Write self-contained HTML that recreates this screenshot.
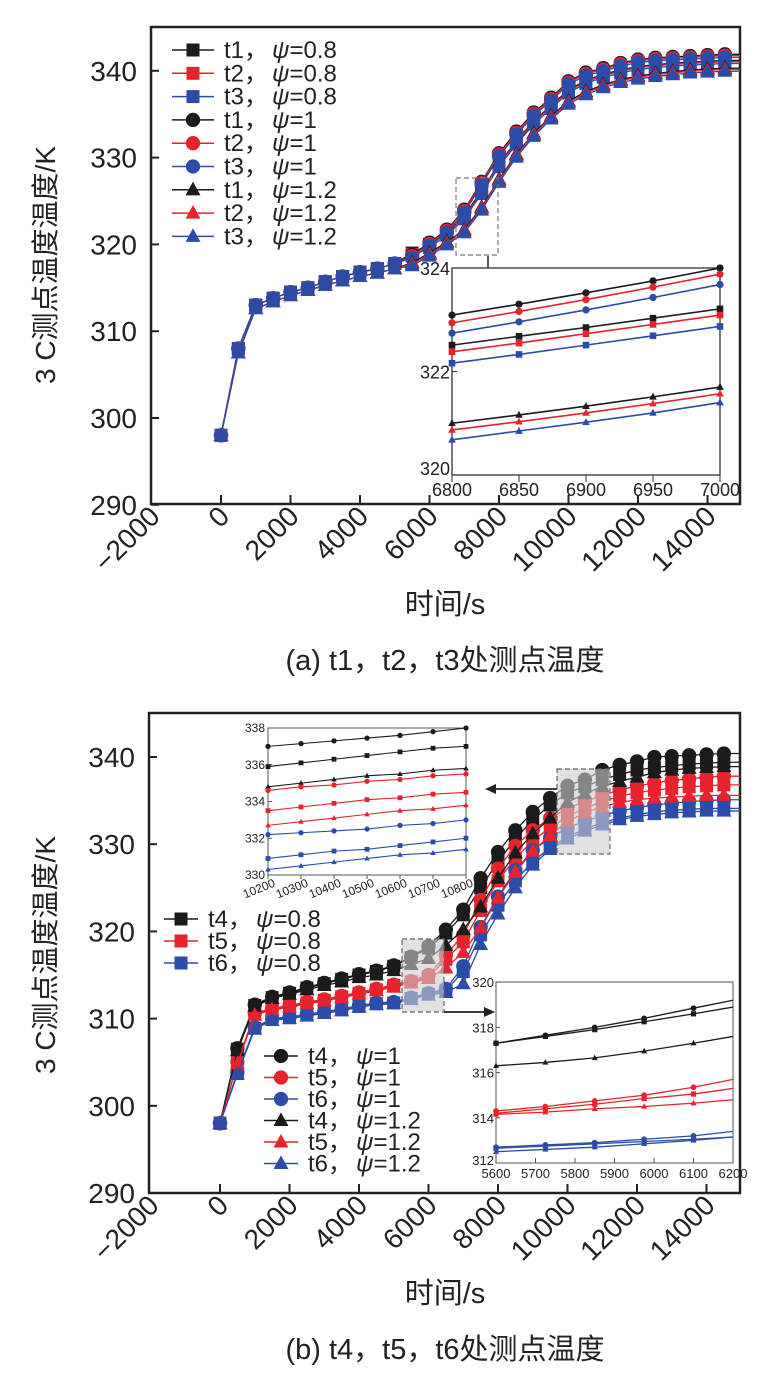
<!DOCTYPE html>
<html><head><meta charset="utf-8">
<style>
html,body{margin:0;padding:0;background:#fff;}
svg{display:block;font-family:"Liberation Sans","Noto Sans CJK SC",sans-serif;}
</style></head>
<body>
<svg id="fig" width="773" height="1377" viewBox="0 0 773 1377" xmlns="http://www.w3.org/2000/svg">
<rect x="0" y="0" width="773" height="1377" fill="#fff"/>
</svg>
<script>
// ---------- DATA ----------
const times = [0,500,1000,1500,2000,2500,3000,3500,4000,4500,5000,5500,6000,6500,7000,7500,8000,8500,9000,9500,10000,10500,11000,11500,12000,12500,13000,13500,14000,14500];
const xTickLabels = [-2000,0,2000,4000,6000,8000,10000,12000,14000];
const topYTicks = [290,300,310,320,330,340];
const botYTicks = [290,300,310,320,330,340];
// top chart (t1 values per psi)
const t1_p08 = [298,308,313,313.8,314.5,315,315.7,316.3,316.8,317.2,317.8,319.0,320.0,321.4,323.3,326.2,329.3,331.9,334.2,336.0,337.8,338.9,339.6,340.1,340.5,340.7,340.9,341.0,341.1,341.2];
const t1_p10 = [298,308,313,313.8,314.5,315,315.7,316.3,316.8,317.2,317.8,318.8,320.2,321.7,324.0,327.2,330.5,333.0,335.2,336.9,338.8,339.8,340.3,340.9,341.3,341.5,341.6,341.7,341.8,341.9];
const t1_p12 = [298,307.5,312.6,313.4,314.1,314.7,315.3,315.8,316.3,316.7,317.2,317.9,319.0,320.3,321.7,324.3,327.5,330.4,332.8,334.8,336.5,337.6,338.4,339.0,339.4,339.7,339.9,340.1,340.2,340.3];
const topSensorOffset = [0,-0.15,-0.35]; // t1,t2,t3
// top inset
const insetTopX = [6800,6850,6900,6950,7000];
const iT1p10 = [323.09,323.3,323.52,323.75,324.0];
const iT2p10 = [322.94,323.16,323.39,323.63,323.88];
const iT3p10 = [322.74,322.96,323.19,323.43,323.68];
const iT1p08 = [322.51,322.68,322.85,323.03,323.21];
const iT2p08 = [322.38,322.55,322.73,322.91,323.09];
const iT3p08 = [322.16,322.33,322.51,322.69,322.87];
const iT1p12 = [321.0,321.16,321.33,321.51,321.7];
const iT2p12 = [320.87,321.03,321.2,321.38,321.57];
const iT3p12 = [320.68,320.85,321.02,321.2,321.4];
// bottom chart
const t4_p08 = [298,306.5,311.5,312.4,312.9,313.5,314.0,314.5,315.0,315.4,316.0,317.0,318.1,319.8,321.9,325.0,328.0,330.6,332.8,334.5,335.9,336.6,337.4,338.0,338.5,338.8,339.0,339.2,339.3,339.4];
const t5_p08 = [298,304.9,310.5,311.1,311.4,311.8,312.1,312.5,312.9,313.3,313.8,314.2,314.8,316.8,318.8,322.4,325.8,328.4,330.4,331.9,333.2,334.1,334.9,335.5,335.9,336.2,336.4,336.6,336.7,336.8];
const t6_p08 = [298,303.7,308.9,309.9,310.1,310.4,310.7,311.0,311.4,311.7,311.8,312.3,312.8,313.2,315.4,319.6,323.0,325.8,328.0,329.6,330.9,331.7,332.5,333.0,333.4,333.7,333.9,334.0,334.1,334.1];
const t4_p10 = [298,306.6,311.6,312.5,313.0,313.6,314.1,314.6,315.1,315.5,316.1,317.1,318.3,320.2,322.5,326.1,329.1,331.6,333.7,335.3,336.7,337.4,338.5,339.1,339.5,340.0,340.1,340.2,340.3,340.4];
const t5_p10 = [298,305.0,310.6,311.2,311.5,311.9,312.2,312.6,313.0,313.4,313.9,314.3,315.0,317.3,319.6,323.6,327.2,329.8,331.6,333.0,334.1,334.9,335.6,336.2,336.7,337.0,337.3,337.5,337.7,337.8];
const t6_p10 = [298,303.8,309.0,310.0,310.2,310.5,310.8,311.1,311.5,311.8,311.9,312.4,312.9,313.4,316.0,320.5,324.0,327.0,329.3,330.7,331.9,332.6,333.3,333.8,334.2,334.5,334.7,334.9,335.0,335.1];
const t4_p12 = [298,306.3,311.4,312.3,312.8,313.3,313.8,314.2,314.7,315.0,315.5,316.2,316.9,318.4,320.2,322.8,326.1,329.0,331.2,333.0,334.8,335.8,336.6,337.2,337.7,338.2,338.5,338.7,338.8,338.9];
const t5_p12 = [298,304.8,310.4,311.0,311.3,311.7,312.0,312.4,312.8,313.2,313.6,314.1,314.6,315.8,317.6,320.4,323.8,326.8,329.2,331.0,332.6,333.6,334.3,334.8,335.1,335.3,335.4,335.5,335.6,335.6];
const t6_p12 = [298,303.6,308.8,309.8,310.0,310.3,310.6,310.9,311.3,311.6,311.7,312.2,312.7,313.0,314.0,318.5,322.0,325.0,327.6,329.4,330.6,331.5,332.2,332.8,333.2,333.4,333.6,333.7,333.8,333.8];
// bottom-left inset
const insetBLX = [10200,10300,10400,10500,10600,10700,10800];
const bl_t4p10 = [337.0,337.15,337.3,337.45,337.6,337.8,338.0];
const bl_t4p08 = [335.9,336.1,336.3,336.5,336.7,336.9,337.0];
const bl_t4p12 = [334.8,335.0,335.2,335.4,335.5,335.7,335.8];
const bl_t5p10 = [334.6,334.8,334.9,335.1,335.2,335.4,335.5];
const bl_t5p08 = [333.5,333.7,333.9,334.1,334.2,334.4,334.5];
const bl_t5p12 = [332.7,332.9,333.1,333.3,333.5,333.6,333.8];
const bl_t6p10 = [332.2,332.3,332.4,332.5,332.7,332.8,333.0];
const bl_t6p08 = [330.9,331.1,331.3,331.4,331.6,331.8,332.0];
const bl_t6p12 = [330.3,330.5,330.7,330.9,331.1,331.2,331.4];
const blYTicks = [330,332,334,336,338];
// bottom-right inset
const insetBRX = [5600,5725,5850,5975,6100,6200];
const br_t4p10 = [317.3,317.65,318.0,318.4,318.85,319.2];
const br_t4p08 = [317.3,317.6,317.9,318.25,318.6,318.9];
const br_t4p12 = [316.3,316.45,316.65,316.95,317.3,317.6];
const br_t5p10 = [314.3,314.5,314.75,315.0,315.35,315.7];
const br_t5p08 = [314.2,314.4,314.6,314.85,315.05,315.3];
const br_t5p12 = [314.15,314.25,314.4,314.5,314.65,314.8];
const br_t6p10 = [312.7,312.8,312.9,313.05,313.2,313.4];
const br_t6p08 = [312.65,312.75,312.85,312.95,313.05,313.15];
const br_t6p12 = [312.5,312.6,312.7,312.85,313.0,313.15];
const brYTicks = [312,314,316,318,320];
const brXTicks = [5600,5700,5800,5900,6000,6100,6200];

// ---------- helpers ----------
const NS='http://www.w3.org/2000/svg';
const svg=document.getElementById('fig');
const BLK='#1b1b1b', RED='#e8232b', BLU='#2b4ca8';
function mk(parent,tag,attrs){const e=document.createElementNS(NS,tag);for(const k in attrs)e.setAttribute(k,attrs[k]);parent.appendChild(e);return e;}
function marker(g,shape,x,y,s,color){
  let m;
  if(shape==='sq') m=mk(g,'rect',{x:x-s,y:y-s,width:2*s,height:2*s,fill:color});
  else if(shape==='ci') m=mk(g,'circle',{cx:x,cy:y,r:s*1.1,fill:color});
  else m=mk(g,'polygon',{points:`${x},${y-s*1.25} ${x-s*1.15},${y+s*0.85} ${x+s*1.15},${y+s*0.85}`,fill:color});
  
  
  return m;
}
function text(g,x,y,str,size,anchor,extra){
  const t=mk(g,'text',Object.assign({x:x,y:y,'font-size':size,'text-anchor':anchor||'start',fill:'#222'},extra||{}));
  t.textContent=str;
  return t;
}
function series(g,xs,ys,fx,fy,color,shape,ms,lw,extendTo,skipLast){
  const pts=xs.map((v,i)=>fx(v)+','+fy(ys[i]));
  if(extendTo) pts.push(extendTo+','+fy(ys[ys.length-1]));
  const pl=mk(g,'polyline',{points:pts.join(' '),fill:'none',stroke:color,'stroke-width':lw});
  
  
  xs.forEach((v,i)=>{ if(skipLast && i===xs.length-1) return; marker(g,shape,fx(v),fy(ys[i]),ms,color);});
}
function legendEntry(g,x1,x2,y,color,shape,label,psi,size){
  const gg=mk(g,'g',{});
  
  
  mk(gg,'line',{x1:x1,y1:y,x2:x2,y2:y,stroke:color,'stroke-width':1.5});
  marker(gg,shape,(x1+x2)/2,y,6.5,color);
  const t=mk(gg,'text',{x:x2+10,y:y+8,'font-size':size,fill:'#222'});
  const a=mk(t,'tspan',{}); a.textContent=label+'，';
  const b=mk(t,'tspan',{'font-style':'italic',dx:4}); b.textContent='ψ';
  const c=mk(t,'tspan',{}); c.textContent='='+psi;
}
function mainAxes(g,L,T,R,B,fx,fy,yTicks){
  const fr=mk(g,'rect',{x:L,y:T,width:R-L,height:B-T,fill:'none',stroke:'#222','stroke-width':2.5});
  
  
  yTicks.forEach(v=>{
    const y=fy(v);
    mk(g,'line',{x1:L,y1:y,x2:L+8,y2:y,stroke:'#222','stroke-width':2});
    const t=text(g,L-14,y+10,String(v),28,'end');
    
    
  });
  xTickLabels.forEach(v=>{
    const x=fx(v);
    if(v>-2000) mk(g,'line',{x1:x,y1:B,x2:x,y2:B-9,stroke:'#222','stroke-width':2});
    const t=text(g,0,0,v<0?'−'+Math.abs(v):String(v),28,'end',{transform:`translate(${x+10},${B+14}) rotate(-45)`});
    
    
  });
}

// ================= TOP CHART =================
const xT=v=>221+v*0.03475;
const yT=v=>418-(v-300)*8.68;
const gTop=mk(svg,'g',{});


mainAxes(gTop,151,27,740,504,xT,yT,topYTicks);
const topSets=[[t1_p08,'sq'],[t1_p10,'ci'],[t1_p12,'tr']];
const sensorCols=[BLK,RED,BLU];
const gTS=mk(gTop,'g',{});


topSets.forEach(([arr,shape])=>{
  [0,1,2].forEach(si=>{
    const ys=arr.map((v,i)=>i<11?v:v+topSensorOffset[si]);
    series(gTS,times,ys,xT,yT,sensorCols[si],shape,6.5,1.3,740,false);
  });
});
// legend
const gTL=mk(gTop,'g',{});


const legA=[['t1','0.8',BLK,'sq'],['t2','0.8',RED,'sq'],['t3','0.8',BLU,'sq'],['t1','1',BLK,'ci'],['t2','1',RED,'ci'],['t3','1',BLU,'ci'],['t1','1.2',BLK,'tr'],['t2','1.2',RED,'tr'],['t3','1.2',BLU,'tr']];
legA.forEach((e,i)=>legendEntry(gTL,172,214,50+i*23.3,e[2],e[3],e[0],e[1],24));
// dashed zoom box + arrow
const zb=mk(gTop,'rect',{x:456,y:178,width:42,height:77,fill:'none',stroke:'#777','stroke-width':1.2,'stroke-dasharray':'5,3'});


mk(gTop,'line',{x1:488,y1:256,x2:488,y2:276,stroke:'#222','stroke-width':1.5});
const ah=mk(gTop,'polygon',{points:'483,275 493,275 488,284',fill:'#222'});


// top inset
const ixT=v=>452+(v-6800)*(268/200);
const iyT=v=>475-(v-320)*51.75;
const gI=mk(gTop,'g',{});


mk(gI,'rect',{x:452,y:268,width:268,height:207,fill:'#fff',stroke:'#333','stroke-width':1.3});
[320,322,324].forEach(v=>{
  mk(gI,'line',{x1:452,y1:iyT(v),x2:457,y2:iyT(v),stroke:'#333','stroke-width':1});
  const t=text(gI,450,iyT(v)+(v===320?0:7),String(v),18,'end');
  
  
});
insetTopX.forEach(v=>{
  mk(gI,'line',{x1:ixT(v),y1:475,x2:ixT(v),y2:482,stroke:'#333','stroke-width':1});
  const t=text(gI,ixT(v),496,String(v),18,'middle');
  
  
});
[[iT1p10,BLK,'ci'],[iT2p10,RED,'ci'],[iT3p10,BLU,'ci'],[iT1p08,BLK,'sq'],[iT2p08,RED,'sq'],[iT3p08,BLU,'sq'],[iT1p12,BLK,'tr'],[iT2p12,RED,'tr'],[iT3p12,BLU,'tr']]
 .forEach(([ys,c,s])=>series(gI,insetTopX,ys,ixT,iyT,c,s,3.3,1.6,null,false));
// labels
const yl1=text(gTop,0,0,'3 C测点温度温度/K',28,'middle',{transform:'translate(55,265) rotate(-90)'});


const xl1=text(gTop,445,614,'时间/s',29,'middle');


const cap1=text(gTop,445,670,'(a) t1，t2，t3处测点温度',29,'middle');



// ================= BOTTOM CHART =================
const xB=v=>220+v*0.03475;
const yB=v=>757+(340-v)*8.72;
const gBot=mk(svg,'g',{});


mainAxes(gBot,149,713,740,1193,xB,yB,botYTicks);
const gBS=mk(gBot,'g',{});


[[t4_p08,BLK,'sq'],[t5_p08,RED,'sq'],[t6_p08,BLU,'sq'],[t4_p10,BLK,'ci'],[t5_p10,RED,'ci'],[t6_p10,BLU,'ci'],[t4_p12,BLK,'tr'],[t5_p12,RED,'tr'],[t6_p12,BLU,'tr']]
 .forEach(([ys,c,s])=>series(gBS,times,ys,xB,yB,c,s,6.5,1.3,740,false));
// gray boxes
const gb1=mk(gBot,'rect',{x:557,y:769,width:53,height:85,fill:'rgba(205,205,205,0.6)',stroke:'#666','stroke-width':1.2,'stroke-dasharray':'5,3'});


const gb2=mk(gBot,'rect',{x:402,y:939,width:42,height:73,fill:'rgba(205,205,205,0.6)',stroke:'#666','stroke-width':1.2,'stroke-dasharray':'5,3'});


mk(gBot,'line',{x1:557,y1:789,x2:494,y2:789,stroke:'#222','stroke-width':1.8});
const a1=mk(gBot,'polygon',{points:'485,789 496,784 496,794',fill:'#222'});


mk(gBot,'line',{x1:444,y1:1012,x2:486,y2:1012,stroke:'#222','stroke-width':1.8});
const a2=mk(gBot,'polygon',{points:'495,1012 484,1007 484,1017',fill:'#222'});


// legends
const gBL=mk(gBot,'g',{});


[['t4','0.8',BLK,'sq'],['t5','0.8',RED,'sq'],['t6','0.8',BLU,'sq']].forEach((e,i)=>legendEntry(gBL,164,198,919+i*22,e[2],e[3],e[0],e[1],24));
[['t4','1',BLK,'ci'],['t5','1',RED,'ci'],['t6','1',BLU,'ci'],['t4','1.2',BLK,'tr'],['t5','1.2',RED,'tr'],['t6','1.2',BLU,'tr']].forEach((e,i)=>legendEntry(gBL,264,298,1056+i*21.5,e[2],e[3],e[0],e[1],24));
// bottom-left inset
const blx=v=>268+(v-10200)*(198/600);
const bly=v=>875-(v-330)*18.375;
const gI2=mk(gBot,'g',{});


mk(gI2,'rect',{x:268,y:728,width:198,height:147,fill:'#fff',stroke:'#555','stroke-width':1});
blYTicks.forEach(v=>{
  mk(gI2,'line',{x1:268,y1:bly(v),x2:272,y2:bly(v),stroke:'#555','stroke-width':1});
  const t=text(gI2,265,bly(v)+4,String(v),12,'end');
  
  
});
insetBLX.forEach(v=>{
  mk(gI2,'line',{x1:blx(v),y1:875,x2:blx(v),y2:879,stroke:'#555','stroke-width':1});
  const t=text(gI2,0,0,String(v),12,'end',{transform:`translate(${blx(v)+8},${886}) rotate(-22)`});
  
  
});
[[bl_t4p10,BLK,'ci'],[bl_t4p08,BLK,'sq'],[bl_t4p12,BLK,'tr'],[bl_t5p10,RED,'ci'],[bl_t5p08,RED,'sq'],[bl_t5p12,RED,'tr'],[bl_t6p10,BLU,'ci'],[bl_t6p08,BLU,'sq'],[bl_t6p12,BLU,'tr']]
 .forEach(([ys,c,s])=>series(gI2,insetBLX,ys,blx,bly,c,s,2.4,1.1,null,false));
// bottom-right inset
const brx=v=>496+(v-5600)*(237/600);
const bry=v=>1163-(v-312)*22.6;
const gI3=mk(gBot,'g',{});


mk(gI3,'rect',{x:496,y:982,width:237,height:181,fill:'#fff',stroke:'#555','stroke-width':1});
brYTicks.forEach(v=>{
  mk(gI3,'line',{x1:496,y1:bry(v),x2:500,y2:bry(v),stroke:'#555','stroke-width':1});
  const t=text(gI3,494,bry(v)+(v===312?2:5),String(v),13,'end');
  
  
});
brXTicks.forEach(v=>{
  mk(gI3,'line',{x1:brx(v),y1:1163,x2:brx(v),y2:1158,stroke:'#555','stroke-width':1});
  const t=text(gI3,brx(v),1178,String(v),13,'middle');
  
  
});
[[br_t4p10,BLK,'ci'],[br_t4p08,BLK,'sq'],[br_t4p12,BLK,'tr'],[br_t5p10,RED,'ci'],[br_t5p08,RED,'sq'],[br_t5p12,RED,'tr'],[br_t6p10,BLU,'ci'],[br_t6p08,BLU,'sq'],[br_t6p12,BLU,'tr']]
 .forEach(([ys,c,s])=>series(gI3,insetBRX,ys,brx,bry,c,s,2.6,1.3,null,true));
// labels
const yl2=text(gBot,0,0,'3 C测点温度温度/K',28,'middle',{transform:'translate(55,955) rotate(-90)'});


const xl2=text(gBot,445,1303,'时间/s',29,'middle');


const cap2=text(gBot,445,1359,'(b) t4，t5，t6处测点温度',29,'middle');


</script>
</body></html>
